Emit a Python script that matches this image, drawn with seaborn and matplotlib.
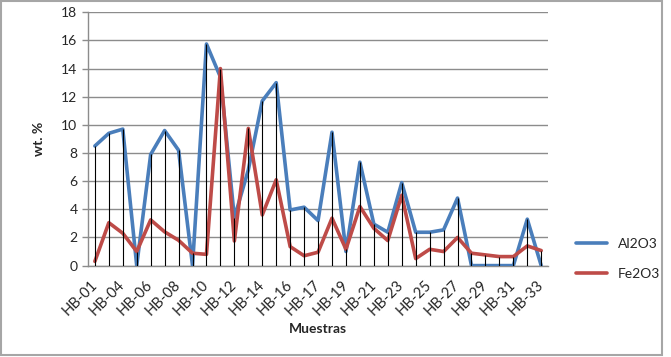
import numpy as np
import pandas as pd
import matplotlib
matplotlib.use('Agg')
import matplotlib.pyplot as plt
import seaborn as sns

# Muestras (only every second label is shown on the axis)
muestras = ['HB-01', 'HB-03', 'HB-04', 'HB-05', 'HB-06', 'HB-07', 'HB-08', 'HB-09',
            'HB-10', 'HB-11', 'HB-12', 'HB-13', 'HB-14', 'HB-15', 'HB-16', 'HB-16A',
            'HB-17', 'HB-18', 'HB-19', 'HB-20', 'HB-21', 'HB-22', 'HB-23', 'HB-24',
            'HB-25', 'HB-26', 'HB-27', 'HB-28', 'HB-29', 'HB-30', 'HB-31', 'HB-32', 'HB-33']

al2o3 = [8.5, 9.4, 9.7, 0.0, 7.9, 9.6, 8.2, 0.0, 15.75, 13.4, 3.4, 6.8, 11.7, 13.0,
         3.95, 4.15, 3.2, 9.48, 1.0, 7.35, 2.95, 2.37, 5.9, 2.37, 2.37, 2.54, 4.8,
         0.0, 0.0, 0.0, 0.0, 3.3, 0.0]

fe2o3 = [0.3, 3.05, 2.3, 1.0, 3.25, 2.4, 1.8, 0.88, 0.8, 14.0, 1.75, 9.75, 3.6, 6.1,
         1.35, 0.7, 0.95, 3.37, 1.16, 4.2, 2.65, 1.78, 5.0, 0.5, 1.16, 1.0, 2.0,
         0.88, 0.76, 0.64, 0.64, 1.4, 1.07]

n = len(muestras)
pos = np.arange(n)

df = pd.DataFrame({
    'pos': np.concatenate([pos, pos]),
    'valor': al2o3 + fe2o3,
    'serie': ['Al2O3'] * n + ['Fe2O3'] * n,
})

sns.set_style('white')
plt.rcParams['font.family'] = ['Lato', 'DejaVu Sans']

fig = plt.figure(figsize=(6.71, 3.57), dpi=100)
ax = fig.add_axes([0.131, 0.256, 0.686, 0.7095])

colores = {'Al2O3': '#4A7EBB', 'Fe2O3': '#BE4B48'}
sns.lineplot(data=df, x='pos', y='valor', hue='serie', palette=colores,
             linewidth=2.6, ax=ax, legend=False, zorder=3)

# drop lines
tope = np.maximum(al2o3, fe2o3)
ax.vlines(pos, 0, tope, color='black', linewidth=0.8, zorder=4)

ax.set_xlim(-0.5, n - 0.5)
ax.set_ylim(0, 18)
ax.set_yticks(range(0, 19, 2))
ax.yaxis.grid(True, color='#8C8C8C', linewidth=1)
ax.set_axisbelow(True)

ax.set_xticks(pos[::2])
ax.set_xticklabels(muestras[::2], rotation=45, ha='right', va='center',
                   rotation_mode='anchor', fontsize=10.5)
ax.set_xticks(np.arange(-0.5, n, 1), minor=True)
ax.tick_params(axis='x', which='major', length=0, pad=12)
ax.tick_params(axis='x', which='minor', length=4, color='#8C8C8C', width=1, direction='out')
ax.tick_params(axis='y', length=4, color='#8C8C8C', width=1, labelsize=10, direction='out', left=True)

for s in ['top', 'right']:
    ax.spines[s].set_visible(False)
for s in ['left', 'bottom']:
    ax.spines[s].set_color('#8C8C8C')
    ax.spines[s].set_linewidth(1)

ax.set_xlabel('Muestras', fontsize=10, fontweight='bold', labelpad=4)
ax.set_ylabel('wt. %', fontsize=10, fontweight='bold', labelpad=12)

handles = [plt.Line2D([0], [0], color=colores[k], linewidth=2.6) for k in ['Al2O3', 'Fe2O3']]
fig.legend(handles, ['Al2O3', 'Fe2O3'], loc='center left', bbox_to_anchor=(0.84, 0.274),
           frameon=False, fontsize=10, handlelength=2.2, labelspacing=1.3)

# chart border
fig.patches.append(plt.Rectangle((0.001, 1 - 355 / 357), 661 / 671, 355 / 357 - 0.002,
                                 transform=fig.transFigure, fill=False,
                                 edgecolor='#A6A6A6', linewidth=1.5))

fig.savefig('out.png', dpi=100)
